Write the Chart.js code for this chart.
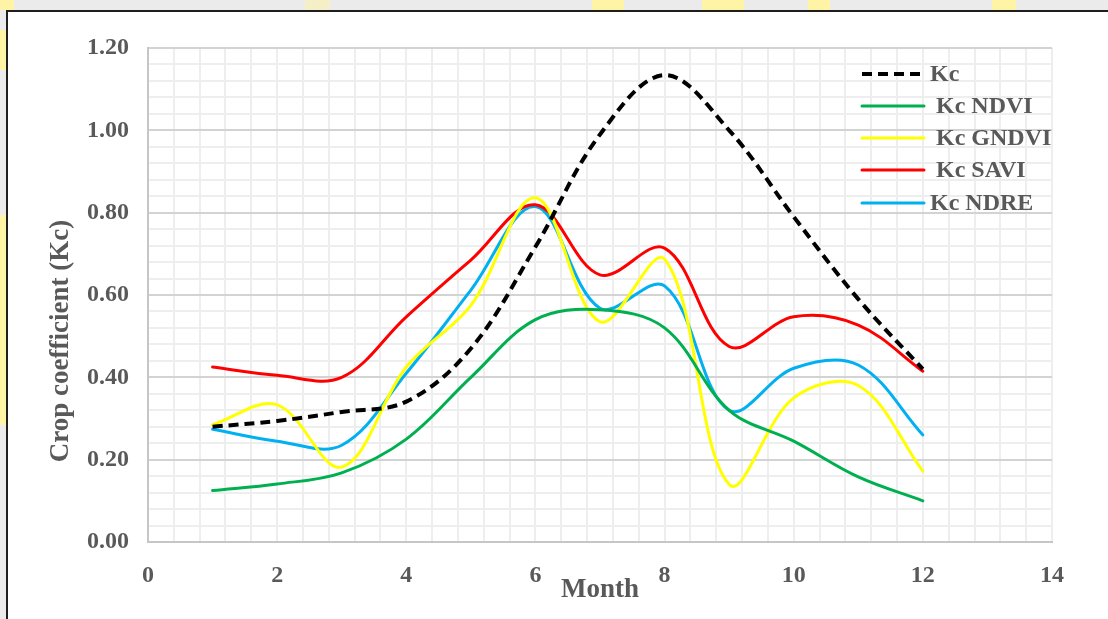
<!DOCTYPE html>
<html>
<head>
<meta charset="utf-8">
<script src="https://cdn.jsdelivr.net/npm/chart.js@4"></script>
<style>
  body { margin:0; width:1108px; height:619px; overflow:hidden; background:#ebebeb; position:relative; }
  .wm { position:absolute; background:#fff3a6; }
  #frame { position:absolute; left:6px; top:10px; width:1110px; height:620px; background:#fff;
           border-left:2px solid #1e1e1e; border-top:2px solid #1e1e1e; }
  #wrap { position:absolute; left:0; top:0; width:1108px; height:619px; }
</style>
</head>
<body>
<div class="wm" style="left:0;top:0;width:14px;height:10px"></div>
<div class="wm" style="left:305px;top:0;width:25px;height:10px;opacity:.5"></div>
<div class="wm" style="left:592px;top:0;width:32px;height:10px"></div>
<div class="wm" style="left:702px;top:0;width:42px;height:10px"></div>
<div class="wm" style="left:808px;top:0;width:22px;height:10px"></div>
<div class="wm" style="left:992px;top:0;width:24px;height:10px"></div>
<div class="wm" style="left:0;top:30px;width:6px;height:40px"></div>
<div class="wm" style="left:0;top:215px;width:6px;height:210px"></div>
<div id="frame"></div>
<div id="wrap"><canvas id="chart" width="1108" height="619"></canvas></div>
<script>
// data
const months = [1, 2, 3, 4, 5, 6, 7, 8, 9, 10, 11, 12]
const kc      = [0.28, 0.294, 0.316, 0.341, 0.47, 0.717, 0.99, 1.134, 1.0, 0.79, 0.59, 0.42]
const kcNdvi  = [0.125, 0.141, 0.168, 0.25, 0.40, 0.54, 0.564, 0.52, 0.32, 0.245, 0.158, 0.10]
const kcGndvi = [0.285, 0.333, 0.182, 0.425, 0.575, 0.836, 0.535, 0.687, 0.14, 0.35, 0.38, 0.172]
const kcSavi  = [0.425, 0.405, 0.40, 0.547, 0.685, 0.819, 0.649, 0.714, 0.475, 0.547, 0.527, 0.415]
const kcNdre  = [0.274, 0.245, 0.235, 0.41, 0.612, 0.815, 0.568, 0.622, 0.32, 0.422, 0.43, 0.26]
const legendLabels = ['Kc', ' Kc NDVI', ' Kc GNDVI', ' Kc SAVI', 'Kc NDRE']

const xTicks = []   // gridline every 0.4, label every 2
for (let i = 0; i <= 35; i++) xTicks.push(Math.round(i * 0.4 * 10) / 10)
const yTicks = []   // gridline every 0.04, label every 0.2
for (let i = 0; i <= 30; i++) yTicks.push(Math.round(i * 0.04 * 100) / 100)

const textColor = '#595959'
const serif = "'Liberation Serif', 'Times New Roman', serif"

function pts(arr) {
  return months.map((m, i) => ({ x: m, y: arr[i] }))
}

function ds(label, arr, color, dash) {
  return {
    label: label,
    data: pts(arr),
    borderColor: color,
    backgroundColor: color,
    borderWidth: dash ? 4 : 3,
    borderDash: dash || [],
    borderCapStyle: dash ? 'butt' : 'round',
    pointRadius: 0,
    tension: 0.36,
    fill: false
  }
}

const extras = {
  id: 'extras',
  afterDraw(chart) {
    const c = chart.ctx
    c.save()
    c.fillStyle = textColor
    c.font = 'bold 27px ' + serif
    c.textAlign = 'center'
    c.textBaseline = 'middle'
    c.fillText('Month', 600, 590)
    c.translate(61, 341)
    c.rotate(-Math.PI / 2)
    c.fillText('Crop coefficient (Kc)', 0, 0)
    c.restore()

    // legend inside the plot
    const rowsY = [74, 106, 138, 170, 203]
    c.save()
    chart.data.datasets.forEach((d, i) => {
      const y = rowsY[i]
      c.strokeStyle = d.borderColor
      c.lineWidth = d.borderWidth
      c.setLineDash(d.borderDash)
      c.lineCap = d.borderDash.length ? 'butt' : 'round'
      c.beginPath()
      c.moveTo(862, y)
      c.lineTo(924, y)
      c.stroke()
      c.setLineDash([])
      c.fillStyle = textColor
      c.font = 'bold 24px ' + serif
      c.textAlign = 'left'
      c.textBaseline = 'middle'
      c.fillText(legendLabels[i], 930, y + 1)
    })
    c.restore()
  }
}

const ctx = document.getElementById('chart')
const myChart = new Chart(ctx, {
  type: 'line',
  data: {
    datasets: [
      ds('Kc', kc, '#000000', [10, 6]),
      ds('Kc NDVI', kcNdvi, '#00b050'),
      ds('Kc GNDVI', kcGndvi, '#ffff00'),
      ds('Kc SAVI', kcSavi, '#ff0000'),
      ds('Kc NDRE', kcNdre, '#00b0f0')
    ]
  },
  options: {
    responsive: false,
    animation: false,
    layout: { padding: { top: 48, right: 56, bottom: 0, left: 0 } },
    plugins: { legend: { display: false }, tooltip: { enabled: false } },
    scales: {
      x: {
        type: 'linear',
        min: 0,
        max: 14,
        afterBuildTicks: s => { s.ticks = xTicks.map(v => ({ value: v })) },
        afterFit: s => { s.height = 77 },
        grid: { color: '#eeeeee', lineWidth: 2, drawTicks: false },
        border: { color: '#c6c6c6', width: 2 },
        ticks: {
          autoSkip: false,
          maxRotation: 0,
          padding: 19,
          color: textColor,
          font: { family: serif, size: 24, weight: 'bold' },
          callback: v => (Math.abs(v / 2 - Math.round(v / 2)) < 1e-6 ? String(Math.round(v)) : '')
        }
      },
      y: {
        min: 0,
        max: 1.2,
        afterBuildTicks: s => { s.ticks = yTicks.map(v => ({ value: v })) },
        afterFit: s => { s.width = 148 },
        grid: {
          drawTicks: false,
          lineWidth: 2,
          color: c => (c.index % 5 === 0 ? '#d3d3d3' : '#eeeeee')
        },
        border: { color: '#c6c6c6', width: 2 },
        ticks: {
          autoSkip: false,
          padding: 19,
          color: textColor,
          font: { family: serif, size: 24, weight: 'bold' },
          callback: (v, i) => (i % 5 === 0 ? v.toFixed(2) : '')
        }
      }
    }
  },
  plugins: [extras]
})
</script>
</body>
</html>
